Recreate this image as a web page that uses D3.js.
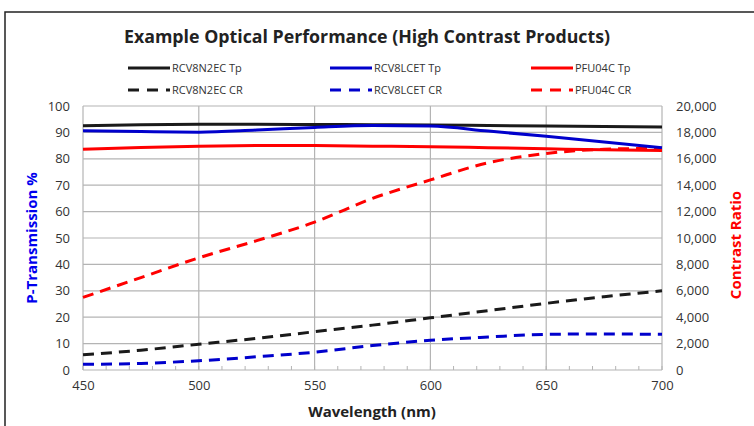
<!DOCTYPE html>
<html><head><meta charset="utf-8">
<script src="https://cdn.jsdelivr.net/npm/d3@7"></script>
<style>body{margin:0;background:#fff;} svg{display:block;} text{font-family:"Open Sans","Liberation Sans",sans-serif;}</style>
</head><body><svg id="c" width="754" height="426"></svg>
<script>
const wavelengths = [450,475,500,525,550,575,600,625,650,675,700];
const rcv8n2ecTp = [92.5,92.9,93.1,93.1,93.0,92.9,92.8,92.6,92.4,92.2,92.0];
const rcv8lcetTp = [90.6,90.3,90.1,90.9,91.9,92.6,92.4,90.5,88.5,86.4,84.2];
const pfu04cTp   = [83.6,84.3,84.8,85.0,85.0,84.8,84.6,84.2,83.8,83.4,83.1];
const rcv8n2ecCR = [1150,1500,1950,2400,2900,3400,3950,4500,5050,5550,6000];
const rcv8lcetCR = [430,500,700,1000,1350,1850,2250,2500,2700,2730,2700];
const pfu04cCR   = [5500,7000,8500,9800,11200,13000,14400,15700,16400,16720,16800];
const leftTicks = [0,10,20,30,40,50,60,70,80,90,100];
const rightTicks = [0,2000,4000,6000,8000,10000,12000,14000,16000,18000,20000];
const xTicks = [450,500,550,600,650,700];
const seriesNames = ["RCV8N2EC Tp","RCV8LCET Tp","PFU04C Tp","RCV8N2EC CR","RCV8LCET CR","PFU04C CR"];
const colors = ["#1a1a1a","#0000cc","#ff0000"];

const svg = d3.select("#c");
const L=83,R=662,T=106,B=370;
const x = d3.scaleLinear().domain([450,700]).range([L,R]);
const yL = d3.scaleLinear().domain([0,100]).range([B,T]);
const yR = d3.scaleLinear().domain([0,20000]).range([B,T]);

// outer frame
svg.append("rect").attr("x",5).attr("y",12).attr("width",900).attr("height",600)
  .attr("fill","none").attr("stroke","#222").attr("stroke-width",1.5);

// gridlines
svg.append("g").selectAll("line").data(leftTicks).join("line")
  .attr("x1",L).attr("x2",R).attr("y1",d=>yL(d)).attr("y2",d=>yL(d))
  .attr("stroke","#b4b4b4").attr("stroke-width",1.2);
svg.append("g").selectAll("line").data(xTicks).join("line")
  .attr("x1",d=>x(d)).attr("x2",d=>x(d)).attr("y1",T).attr("y2",B)
  .attr("stroke","#b4b4b4").attr("stroke-width",1.2);
// minor ticks inward
svg.append("g").selectAll("line").data(d3.range(450,701,10)).join("line")
  .attr("x1",d=>x(d)).attr("x2",d=>x(d)).attr("y1",B).attr("y2",B-4)
  .attr("stroke","#b4b4b4").attr("stroke-width",1);

// axes labels
const axL = svg.append("g").attr("transform",`translate(${L},0)`).call(d3.axisLeft(yL).tickValues(leftTicks).tickSize(0).tickPadding(13));
const axR = svg.append("g").attr("transform",`translate(${R},0)`).call(d3.axisRight(yR).tickValues(rightTicks).tickSize(0).tickPadding(14).tickFormat(d3.format(",")));
const axB = svg.append("g").attr("transform",`translate(0,${B})`).call(d3.axisBottom(x).tickValues(xTicks).tickSize(0).tickPadding(11));
[axL,axR,axB].forEach(a=>{a.select(".domain").remove();a.selectAll("text").attr("font-size",13).attr("fill","#333").style("font-family","'Open Sans',sans-serif");});

// lines
const line = (ys,scale)=>d3.line().x((d,i)=>x(wavelengths[i])).y(d=>scale(d)).curve(d3.curveMonotoneX)(ys);
const tp = [rcv8n2ecTp,rcv8lcetTp,pfu04cTp];
const cr = [rcv8n2ecCR,rcv8lcetCR,pfu04cCR];
cr.forEach((s,i)=>svg.append("path").attr("d",line(s,yR)).attr("fill","none").attr("stroke",colors[i]).attr("stroke-width",3).attr("stroke-dasharray","11,7"));
tp.forEach((s,i)=>svg.append("path").attr("d",line(s,yL)).attr("fill","none").attr("stroke",colors[i]).attr("stroke-width",3));

// title
svg.append("text").attr("x",367).attr("y",43).attr("text-anchor","middle").attr("font-size",18).attr("font-weight","bold")
  .attr("fill","#222").attr("textLength",486).attr("lengthAdjust","spacingAndGlyphs")
  .text("Example Optical Performance (High Contrast Products)");

// legend
const legX=[128,330,531], legY=[68,90];
seriesNames.forEach((n,k)=>{
  const col=k%3,row=Math.floor(k/3);
  const g=svg.append("g");
  g.append("line").attr("x1",legX[col]).attr("x2",legX[col]+42).attr("y1",legY[row]).attr("y2",legY[row])
    .attr("stroke",colors[col]).attr("stroke-width",3).attr("stroke-dasharray",row?"11,8":null);
  g.append("text").attr("x",legX[col]+44).attr("y",legY[row]+4).attr("font-size",11).attr("fill","#333").text(n);
});

// axis titles
svg.append("text").attr("transform","translate(37,238) rotate(-90)").attr("text-anchor","middle")
  .attr("font-size",15).attr("font-weight","bold").attr("fill","#0000ee").text("P-Transmission %");
svg.append("text").attr("transform","translate(741,245) rotate(-90)").attr("text-anchor","middle")
  .attr("font-size",15).attr("font-weight","bold").attr("fill","#ff0000").text("Contrast Ratio");
svg.append("text").attr("x",372).attr("y",417).attr("text-anchor","middle")
  .attr("font-size",15).attr("font-weight","bold").attr("fill","#222").text("Wavelength (nm)");
</script></body></html>
